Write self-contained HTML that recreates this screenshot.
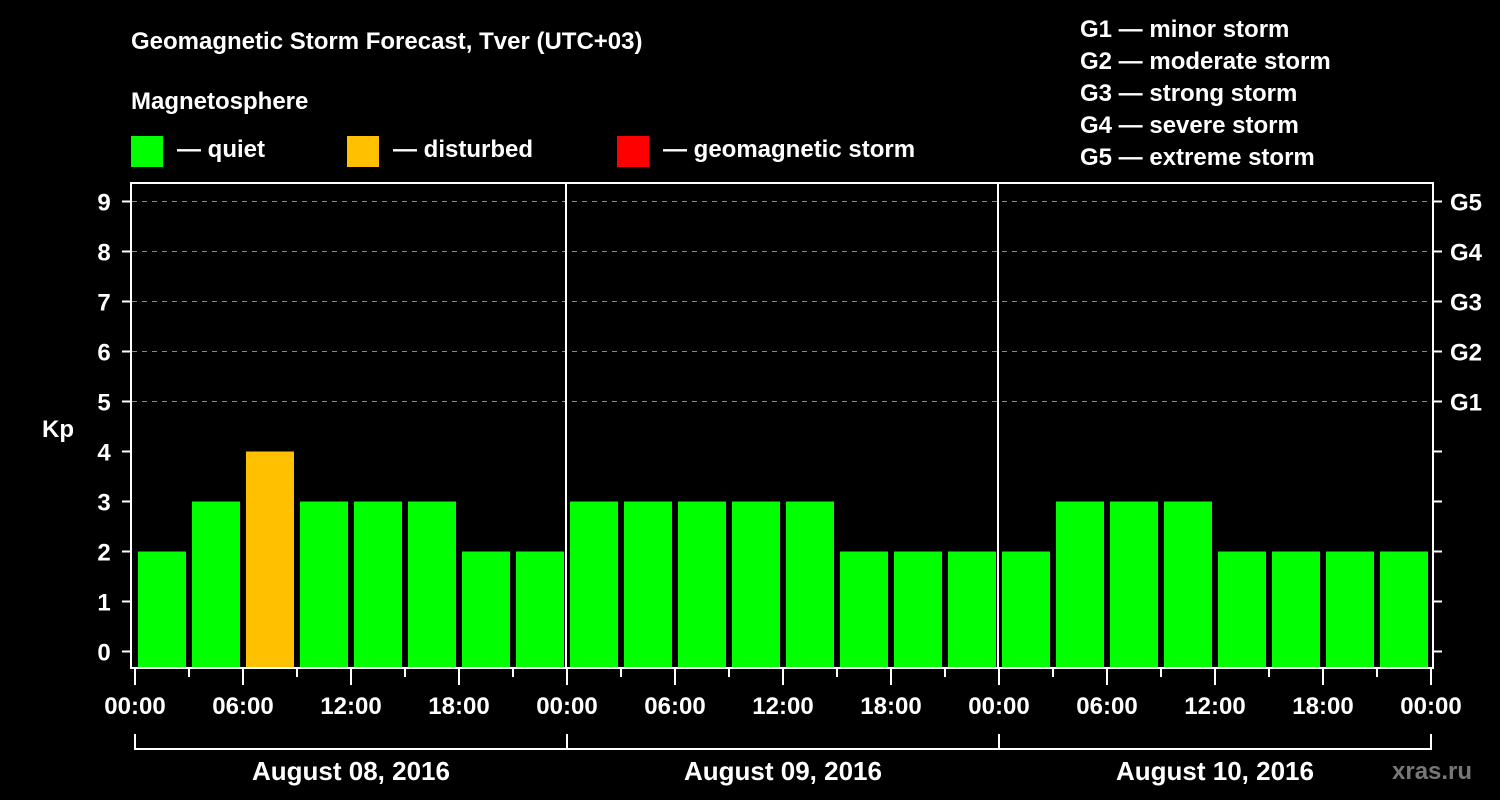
<!DOCTYPE html>
<html><head><meta charset="utf-8"><style>
html,body{margin:0;padding:0;background:#000;}
svg{display:block;font-family:"Liberation Sans",Arial,sans-serif;font-weight:bold;}
</style></head><body>
<svg id="chart" width="1500" height="800" viewBox="0 0 1500 800">
<rect width="1500" height="800" fill="#000"/>
<text x="131" y="49" fill="#fff" font-size="24">Geomagnetic Storm Forecast, Tver (UTC+03)</text>
<text x="131" y="109" fill="#fff" font-size="24">Magnetosphere</text>
<g><rect x="131" y="136" width="32" height="31" fill="#00ff00"/><text x="177" y="157" fill="#fff" font-size="24">— quiet</text></g>
<g><rect x="347" y="136" width="32" height="31" fill="#ffc000"/><text x="393" y="157" fill="#fff" font-size="24">— disturbed</text></g>
<g><rect x="617" y="136" width="32" height="31" fill="#ff0000"/><text x="663" y="157" fill="#fff" font-size="24">— geomagnetic storm</text></g>
<g fill="#fff" font-size="24">
<text x="1080" y="37">G1 — minor storm</text>
<text x="1080" y="69">G2 — moderate storm</text>
<text x="1080" y="101">G3 — strong storm</text>
<text x="1080" y="133">G4 — severe storm</text>
<text x="1080" y="165">G5 — extreme storm</text>
</g>
<text x="42" y="437" fill="#fff" font-size="24">Kp</text>
<g id="grid"></g>
<g id="bars"></g>
<g id="axes"></g>
<text x="1392" y="779" fill="#777" font-size="24">xras.ru</text>
</svg>
<script>
const kpValues = [2,3,4,3,3,3,2,2, 3,3,3,3,3,2,2,2, 2,3,3,3,2,2,2,2];
const dayLabels = ["August 08, 2016","August 09, 2016","August 10, 2016"];
const timeLabels = ["00:00","06:00","12:00","18:00"];
const gLabels = ["G1","G2","G3","G4","G5"];
const yTicks = [0,1,2,3,4,5,6,7,8,9];

const NS="http://www.w3.org/2000/svg";
const x0=135, slot=54, y0=651.5, unit=50;
const X = i => x0 + i*slot;
const Y = v => y0 - v*unit;
function mk(tag, attrs, parent, txt){const e=document.createElementNS(NS,tag);for(const k in attrs)e.setAttribute(k,attrs[k]);if(txt!==undefined)e.textContent=txt;parent.appendChild(e);return e;}
const grid=document.getElementById('grid'), bars=document.getElementById('bars'), axes=document.getElementById('axes');
const color = v => v>=5?"#ff0000":(v>=4?"#ffc000":"#00ff00");

yTicks.forEach(v=>{
  if(v>=5){const l=mk('line',{x1:132,x2:1432,y1:Y(v),y2:Y(v),stroke:'#888','stroke-width':1,'stroke-dasharray':'5,5'},grid);
    
    }
  const t=mk('line',{x1:122,x2:131,y1:Y(v),y2:Y(v),stroke:'#fff','stroke-width':2},axes);
  
  
  const lb=mk('text',{x:104,y:Y(v)+9,fill:'#fff','font-size':24,'text-anchor':'middle'},axes,String(v));
  
  
  const rt=mk('line',{x1:1433,x2:1442,y1:Y(v),y2:Y(v),stroke:'#fff','stroke-width':2},axes);
  
  
  if(v>=5){const g=mk('text',{x:1450,y:Y(v)+9,fill:'#fff','font-size':24},axes,gLabels[v-5]);
    
    }
});

kpValues.forEach((v,i)=>{
  const r=mk('rect',{x:X(i)+3,y:Y(v),width:48,height:668-Y(v),fill:color(v)},bars);
  
  
});

const frame=mk('rect',{x:131,y:183,width:1302,height:485,fill:'none',stroke:'#fff','stroke-width':2},axes);


[1,2].forEach(d=>{const l=mk('line',{x1:X(d*8)-1,x2:X(d*8)-1,y1:183,y2:668,stroke:'#fff','stroke-width':2},axes);
  
  });

for(let i=0;i<=24;i++){
  const major=i%2===0;
  const t=mk('line',{x1:X(i),x2:X(i),y1:669,y2:major?685:677,stroke:'#fff','stroke-width':2},axes);
  
  
  if(major){const lb=mk('text',{x:X(i),y:714,fill:'#fff','font-size':24,'text-anchor':'middle'},axes,timeLabels[(i/2)%4]);
    
    }
}
const br=mk('path',{d:`M${X(0)} 734 V749 H${X(24)} V734 M${X(8)} 734 V749 M${X(16)} 734 V749`,fill:'none',stroke:'#fff','stroke-width':2},axes);


dayLabels.forEach((d,k)=>{
  const t=mk('text',{x:(X(k*8)+X(k*8+8))/2,y:780,fill:'#fff','font-size':26,'text-anchor':'middle'},axes,d);
  
  
});
</script>
</body></html>
